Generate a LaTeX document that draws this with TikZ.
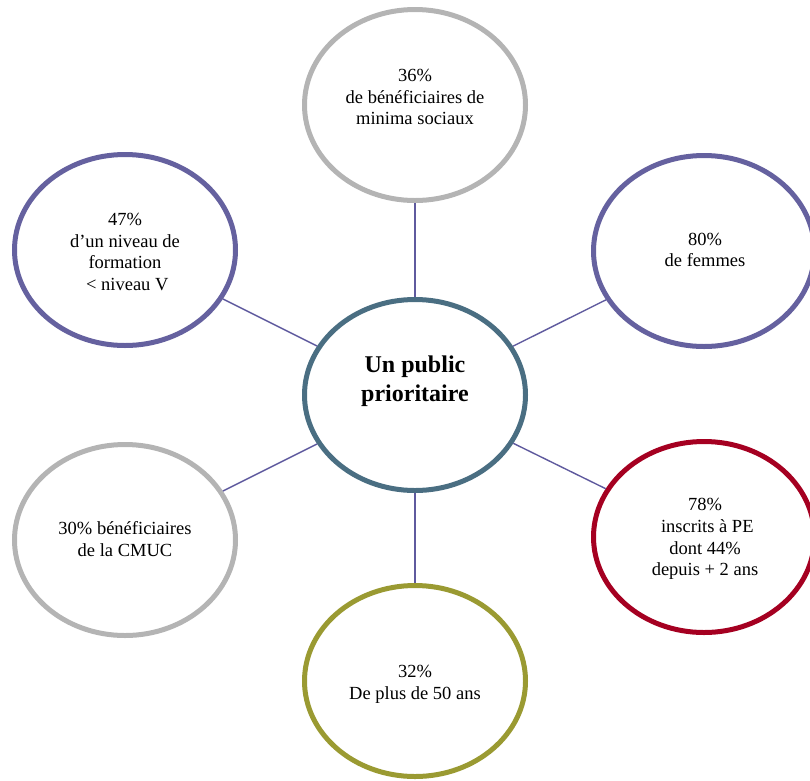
\documentclass[tikz,border=0pt]{standalone}
\usepackage{fontspec}
\setmainfont{Liberation Serif}
\usetikzlibrary{shapes.geometric}
\definecolor{cgray}{HTML}{B4B4B4}
\definecolor{cpurple}{HTML}{65619F}
\definecolor{csteel}{HTML}{4A6E82}
\definecolor{cred}{HTML}{A50021}
\definecolor{colive}{HTML}{9A9A32}
\definecolor{cline}{HTML}{5F5A9E}
\tikzset{
  bubble/.style={ellipse, draw=#1, line width=5pt, minimum width=221pt, minimum height=191pt, inner sep=0pt},
  txt/.style={align=center, inner sep=0pt, font=\fontsize{18.5}{21.7}\selectfont},
  ctxt/.style={align=center, inner sep=0pt, font=\fontsize{24}{29}\selectfont\bfseries},
  conn/.style={draw=cline, line width=1.4pt}
}
\begin{document}
\begin{tikzpicture}[x=1pt,y=-1pt]
\useasboundingbox (0,0) rectangle (810,780);
\clip (0,0) rectangle (810,780);
\node[bubble=csteel] (c) at (415,395) {};
\node[bubble=cgray] (t) at (415,105) {};
\node[bubble=cpurple] (tl) at (125,250) {};
\node[bubble=cpurple] (tr) at (704,251) {};
\node[bubble=cgray] (bl) at (125,540) {};
\node[bubble=cred] (br) at (704,537) {};
\node[bubble=colive] (b) at (415,681) {};
\draw[conn] (c) -- (t);
\draw[conn] (c) -- (tl);
\draw[conn] (c) -- (tr);
\draw[conn] (c) -- (bl);
\draw[conn] (c) -- (br);
\draw[conn] (c) -- (b);
\node[ctxt] (ct) at (415,381) {Un public\\prioritaire};
\node[txt] (tt) at (415,97) {36\%\\de bénéficiaires de\\minima sociaux};
\node[txt] (tlt) at (125,252) {47\%\\d’un niveau de\\formation\\\ \textless\ niveau V};
\node[txt] (trt) at (705,250) {80\%\\de femmes};
\node[txt] (blt) at (125,539) {30\% bénéficiaires\\de la CMUC};
\node[txt] (brt) at (705,539) {78\%\\\ inscrits à PE\\dont 44\%\\depuis + 2 ans};
\node[txt] (bt) at (415,684) {32\%\\De plus de 50 ans};
\end{tikzpicture}
\end{document}
